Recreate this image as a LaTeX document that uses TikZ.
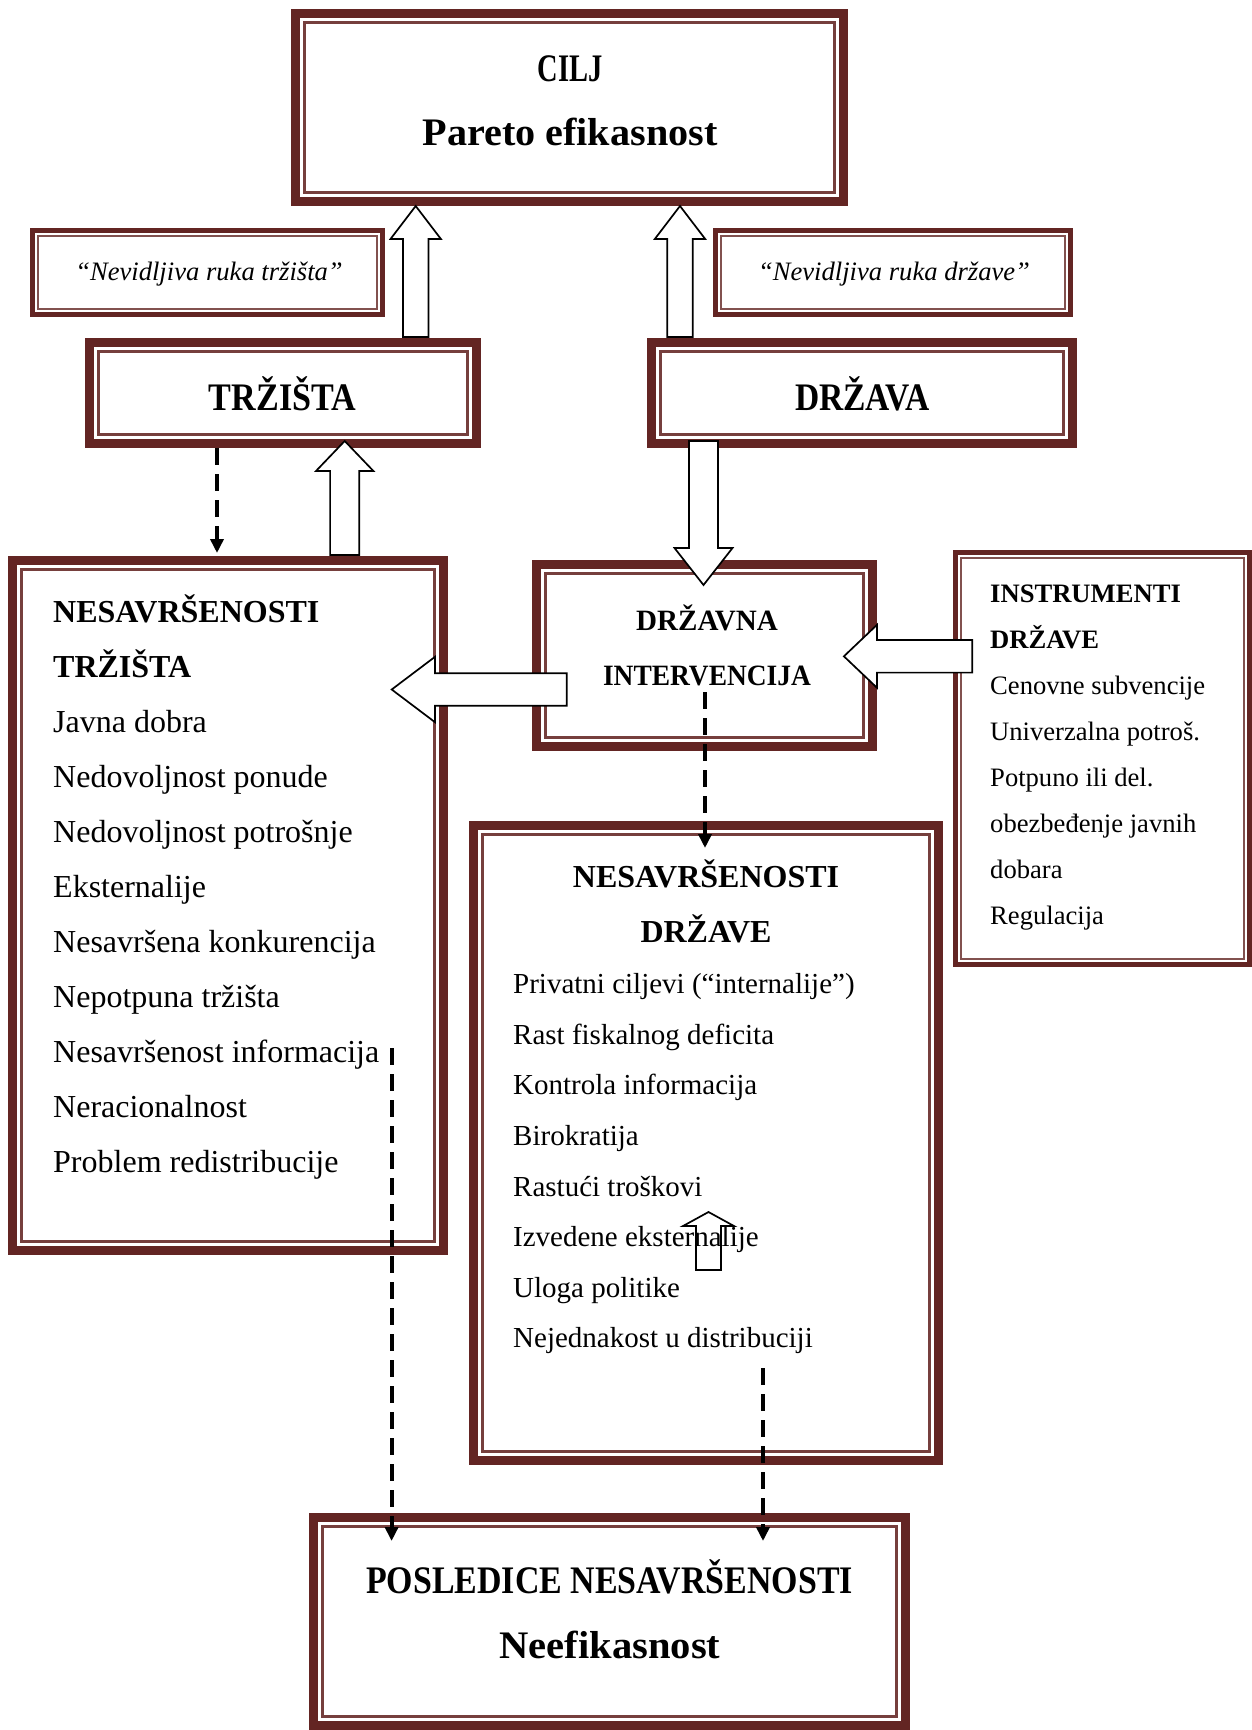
\documentclass[tikz,border=0pt]{standalone}
\usepackage{fontspec}
\usepackage{graphicx}
\setmainfont{Liberation Serif}
\usetikzlibrary{calc,arrows.meta}
\definecolor{maroon}{RGB}{99,37,35}

% bold heading text, horizontally scaled
\newcommand\hd[3]{\scalebox{#1}[1]{\fontsize{#2}{#2}\selectfont\bfseries #3}}
\newcommand\ntfont{\fontsize{32}{36}\selectfont}
\newcommand\ndfont{\fontsize{29}{33}\selectfont}
\newcommand\insfont{\fontsize{26.6}{30}\selectfont}
\newcommand\nvfont{\fontsize{26.6}{30}\selectfont\itshape}

\tikzset{
  heavybox/.style={draw=maroon, line width=9pt, inner sep=0pt, outer sep=4.5pt},
  lightbox/.style={draw=maroon, line width=5pt, inner sep=0pt, outer sep=2.5pt},
  heavyinner/.style={draw=maroon!88!white, line width=2.6pt},
  lightinner/.style={draw=maroon!80!white, line width=1.6pt},
  blockarrow/.style={draw=black, line width=1.7pt, fill=white, line join=miter},
  dasharrow/.style={draw=black, line width=4pt, dash pattern=on 17pt off 9pt,
    -{Triangle[length=14pt,width=13pt]}},
  lbl/.style={inner sep=0pt, anchor=base west},
  ttl/.style={inner sep=0pt, anchor=base},
}

% framed boxes given by their outer edges: name, x1, y1, x2, y2
\newcommand\heavybx[5]{%
  \node[heavybox, minimum width={#4-#2-9}, minimum height={#5-#3-9}] (#1)
    at ({(#2+#4)/2},{(#3+#5)/2}) {};
  \draw[heavyinner] ([shift={(13.3pt,-13.3pt)}]#1.north west)
    rectangle ([shift={(-13.3pt,13.3pt)}]#1.south east);}
\newcommand\lightbx[5]{%
  \node[lightbox, minimum width={#4-#2-5}, minimum height={#5-#3-5}] (#1)
    at ({(#2+#4)/2},{(#3+#5)/2}) {};
  \draw[lightinner] ([shift={(7.8pt,-7.8pt)}]#1.north west)
    rectangle ([shift={(-7.8pt,7.8pt)}]#1.south east);}

% hollow block arrow: start, tip, shaft half width, head half width, head length
\newcommand\barrow[5]{%
  \coordinate (bah) at ($(#2)!#5!(#1)$);
  \draw[blockarrow] ($(#1)!#3!90:(#2)$) -- ($(bah)!#3!-90:(#1)$)
    -- ($(bah)!#4!-90:(#1)$) -- (#2) -- ($(bah)!#4!90:(#1)$)
    -- ($(bah)!#3!90:(#1)$) -- ($(#1)!#3!-90:(#2)$) -- cycle;}

\begin{document}
\begin{tikzpicture}[x=1pt, y=-1pt]
\useasboundingbox (0,0) rectangle (1252,1730);
\clip (0,0) rectangle (1252,1730);

% frames
\heavybx{cilj}{291}{9}{848}{206}
\lightbx{nvt}{30}{228}{385}{317}
\lightbx{nvd}{713}{228}{1073}{317}
\heavybx{trz}{85}{338}{481}{448}
\heavybx{drz}{647}{338}{1077}{448}
\heavybx{nt}{8}{556}{448}{1255}
\heavybx{di}{532}{560}{877}{751}
\lightbx{ins}{953}{550}{1252}{967}
\heavybx{nd}{469}{821}{943}{1465}
\heavybx{pos}{309}{1513}{910}{1730}

% connector end points
\coordinate (a1s) at (415.7,337);
\coordinate (a2s) at (680,337);
\coordinate (a3s) at (344.7,555);
\coordinate (a3e) at (344.7,441);
\coordinate (a4s) at (703.5,441);
\coordinate (a4e) at (703.5,585);
\coordinate (a5s) at (566.7,689.5);
\coordinate (a5e) at (391.7,689.5);
\coordinate (a6s) at (972.3,656.3);
\coordinate (a6e) at (843.9,656.3);
\coordinate (a7s) at (708.5,1270);
\coordinate (a7e) at (708.5,1212);

% block arrows
\barrow{a1s}{a1s |- cilj.south}{12.8pt}{25.2pt}{33pt}
\barrow{a2s}{a2s |- cilj.south}{12.8pt}{25.2pt}{33pt}
\barrow{a3s}{a3e}{14.6pt}{28.7pt}{30pt}
\barrow{a4s}{a4e}{14.5pt}{29pt}{37pt}
\barrow{a5s}{a5e}{16.2pt}{32.7pt}{43.3pt}
\barrow{a6s}{a6e}{16.3pt}{31.4pt}{33pt}
\barrow{a7s}{a7e}{12.5pt}{25.5pt}{14pt}

% titles
\node[ttl] (tcilj) at (570,81) {\hd{0.73}{39}{CILJ}};
\node[ttl] (tpareto) at (570,145) {\hd{1.03}{39}{Pareto efikasnost}};
\node[ttl] (tnvt) at (209,280.7) {\nvfont “Nevidljiva ruka tržišta”};
\node[ttl] (tnvd) at (894,280.7) {\nvfont “Nevidljiva ruka države”};
\node[ttl] (ttrz) at (282.5,410) {\hd{0.875}{39}{TRŽIŠTA}};
\node[ttl] (tdrz) at (862.5,410) {\hd{0.86}{39}{DRŽAVA}};
\node[ttl] (tdi1) at (707,630) {\hd{0.985}{29.5}{DRŽAVNA}};
\node[ttl] (tdi2) at (707,685) {\hd{0.93}{29.5}{INTERVENCIJA}};
\node[ttl] (tpos1) at (609.5,1593) {\hd{0.87}{39}{POSLEDICE NESAVRŠENOSTI}};
\node[ttl] (tpos2) at (610,1658) {\hd{1.04}{39}{Neefikasnost}};

% market failures
\node[lbl] (nt0) at (53,622) {\ntfont\bfseries NESAVRŠENOSTI};
\node[lbl] (nt1) at (53,677) {\ntfont\bfseries TRŽIŠTA};
\foreach \t [count=\i from 2] in {Javna dobra,Nedovoljnost ponude,
  Nedovoljnost potrošnje,Eksternalije,Nesavršena konkurencija,
  Nepotpuna tržišta,Nesavršenost informacija,Neracionalnost,
  Problem redistribucije}
  \node[lbl] (nt\i) at (53,{622+55*\i}) {\ntfont \t};

% government failures
\node[ttl] (nd0) at (706,887) {\ntfont\bfseries NESAVRŠENOSTI};
\node[ttl] (nd1) at (706,942) {\ntfont\bfseries DRŽAVE};
\foreach \t [count=\i from 0] in {Privatni ciljevi (“internalije”),
  Rast fiskalnog deficita,Kontrola informacija,Birokratija,
  Rastući troškovi,Izvedene eksternalije,Uloga politike,
  Nejednakost u distribuciji}
  \node[lbl] (ndl\i) at (513,{993.7+50.6*\i}) {\ndfont \t};

% instruments
\node[lbl] (in0) at (990,602) {\insfont\bfseries INSTRUMENTI};
\node[lbl] (in1) at (990,648) {\insfont\bfseries DRŽAVE};
\foreach \t [count=\i from 2] in {Cenovne subvencije,Univerzalna potroš.,
  Potpuno ili del.,obezbeđenje javnih,dobara,Regulacija}
  \node[lbl] (in\i) at (990,{602+46*\i}) {\insfont \t};

% dashed links
\coordinate (d1s) at (217,448);
\coordinate (d1e) at (217,553);
\coordinate (d2s) at (705,692);
\coordinate (d2e) at (705,848);
\coordinate (d3s) at (391.6,1048);
\coordinate (d3e) at (391.6,1541);
\coordinate (d4s) at (763,1368);
\coordinate (d4e) at (763,1541);
\draw[dasharrow] (d1s) -- (d1e);
\draw[dasharrow] (d2s) -- (d2e);
\draw[dasharrow] (d3s) -- (d3e);
\draw[dasharrow] (d4s) -- (d4e);
\end{tikzpicture}
\end{document}
